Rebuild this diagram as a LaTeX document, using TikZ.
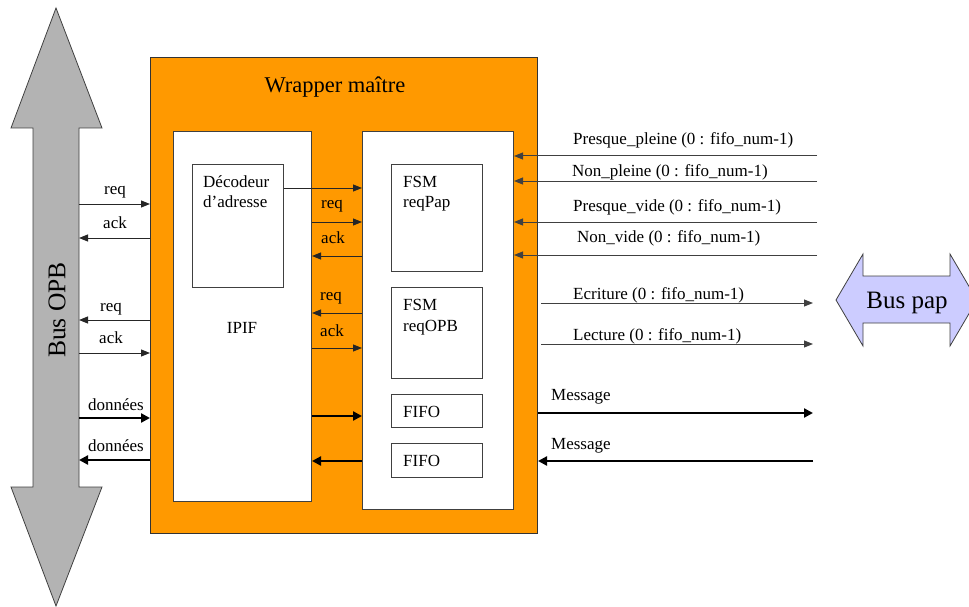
\documentclass[tikz,border=0pt]{standalone}
\usepackage{fontspec}
\setmainfont{Liberation Serif}
\usetikzlibrary{arrows.meta}
\definecolor{wraporange}{HTML}{FF9900}
\definecolor{busgray}{HTML}{B3B3B3}
\definecolor{buslilac}{HTML}{CCCCFF}
\definecolor{edge}{HTML}{404040}

\begin{document}
\begin{tikzpicture}[x=1pt,y=-1pt,
  box/.style={draw=edge, line width=1pt, fill=white, anchor=north west, inner sep=0pt},
  txt/.style={font=\fontsize{17}{20}\selectfont, inner sep=0pt},
  lbl/.style={txt, anchor=base},
  lblw/.style={txt, anchor=base west},
  sig/.style={line width=1pt, draw=black!85, -{Triangle[length=9pt,width=7pt]}},
  sigg/.style={sig, draw=edge},
  fat/.style={line width=2.8pt, -{Triangle[length=9pt,width=9pt]}}
]
\useasboundingbox (0,0) rectangle (969,607);

% OPB bus (vertical double arrow)
\draw[fill=busgray, draw=edge, line width=0.8pt]
  (56,8) -- (102,128) -- (79,128) -- (79,487) -- (102,487) -- (56,606)
  -- (11,487) -- (33,487) -- (33,128) -- (11,128) -- cycle;
\node[txt, font=\fontsize{25.5}{28}\selectfont, rotate=90] (opb) at (57,310) {Bus OPB};
\coordinate (opbR) at (79,0);

% pap bus (horizontal double arrow)
\draw[fill=buslilac, draw=edge, line width=0.8pt]
  (836,300) -- (863,254) -- (863,276) -- (950,276) -- (950,254) -- (977,300)
  -- (950,346) -- (950,323) -- (863,323) -- (863,346) -- cycle;
\node[txt, font=\fontsize{25}{28}\selectfont, anchor=base] (pap) at (907,308) {Bus pap};

% master wrapper
\node[box, draw=black!80, fill=wraporange, minimum width=387pt, minimum height=476pt] (wrap) at (150,57) {};
\node[txt, font=\fontsize{22.5}{26}\selectfont, anchor=base] (wraptitle) at (335,93) {Wrapper maître};

% IPIF block and address decoder
\node[box, minimum width=138pt, minimum height=370pt] (ipif) at (173,131) {};
\node[lbl] (ipiflbl) at (242,333) {IPIF};
\node[box, minimum width=91pt, minimum height=123pt] (dec) at (192,164) {};
\node[lblw] (dec1) at (203,187) {Décodeur};
\node[lblw] (dec2) at (203,207) {d’adresse};

% right block: FSMs and FIFOs
\node[box, minimum width=151pt, minimum height=378pt] (rbox) at (362,131) {};
\node[box, minimum width=91pt, minimum height=107pt] (fsmpap) at (391,164) {};
\node[lblw] (fp1) at (403,187) {FSM};
\node[lblw] (fp2) at (403,207) {reqPap};
\node[box, minimum width=91pt, minimum height=91pt] (fsmopb) at (391,287) {};
\node[lblw] (fo1) at (403,310) {FSM};
\node[lblw] (fo2) at (403,331) {reqOPB};
\node[box, minimum width=91pt, minimum height=33pt] (fifoA) at (391,394) {};
\node[lblw] (fa) at (403,417) {FIFO};
\node[box, minimum width=91pt, minimum height=34pt] (fifoB) at (391,443) {};
\node[lblw] (fb) at (403,466) {FIFO};

% OPB bus <-> wrapper
\draw[sig] (opbR |- 0,204) -- (wrap.west |- 0,204);
\node[lbl] at (115,194) {req};
\draw[sig] (wrap.west |- 0,238) -- (opbR |- 0,238);
\node[lbl] at (115,228) {ack};
\draw[sig] (wrap.west |- 0,320) -- (opbR |- 0,320);
\node[lbl] at (111,311) {req};
\draw[sig] (opbR |- 0,353) -- (wrap.west |- 0,353);
\node[lbl] at (111,343) {ack};
\draw[fat] (opbR |- 0,418) -- (wrap.west |- 0,418);
\node[lbl] at (116,410) {données};
\draw[fat] (wrap.west |- 0,460) -- (opbR |- 0,460);
\node[lbl] at (116,451) {données};

% IPIF <-> FSM / FIFO
\draw[sig] (dec.east |- 0,188) -- (rbox.west |- 0,188);
\draw[sig] (ipif.east |- 0,222) -- (rbox.west |- 0,222);
\node[lblw] at (321,208) {req};
\draw[sig] (rbox.west |- 0,256) -- (ipif.east |- 0,256);
\node[lblw] at (321,243) {ack};
\draw[sig] (rbox.west |- 0,313) -- (ipif.east |- 0,313);
\node[lblw] at (320,300) {req};
\draw[sig] (ipif.east |- 0,348) -- (rbox.west |- 0,348);
\node[lblw] at (320,336) {ack};
\draw[fat] (ipif.east |- 0,416) -- (rbox.west |- 0,416);
\draw[fat] (rbox.west |- 0,461) -- (ipif.east |- 0,461);

% status inputs from the pap side
\coordinate (extin) at (817,0);
\coordinate (extout) at (813,0);
\draw[sigg] (extin |- 0,156) -- (rbox.east |- 0,156);
\node[lblw] at (573,145) {Presque\_pleine (0 : fifo\_num-1)};
\draw[sigg] (extin |- 0,181) -- (rbox.east |- 0,181);
\node[lblw] at (572,176) {Non\_pleine (0 : fifo\_num-1)};
\draw[sigg] (extin |- 0,222) -- (rbox.east |- 0,222);
\node[lblw] at (573,211) {Presque\_vide (0 : fifo\_num-1)};
\draw[sigg] (extin |- 0,255) -- (rbox.east |- 0,255);
\node[lblw] at (577,242) {Non\_vide (0 : fifo\_num-1)};

% commands and messages towards the pap bus
\draw[sigg] ([xshift=3pt]wrap.east |- 0,303) -- (extout |- 0,303);
\node[lblw] at (573,299) {Ecriture (0 : fifo\_num-1)};
\draw[sigg] ([xshift=3pt]wrap.east |- 0,344) -- (extout |- 0,344);
\node[lblw] at (573,340) {Lecture (0 : fifo\_num-1)};
\draw[fat] (wrap.east |- 0,413) -- (extout |- 0,413);
\node[lblw] at (551,400) {Message};
\draw[fat] (extout |- 0,461) -- (wrap.east |- 0,461);
\node[lblw] at (551,449) {Message};
\end{tikzpicture}
\end{document}
